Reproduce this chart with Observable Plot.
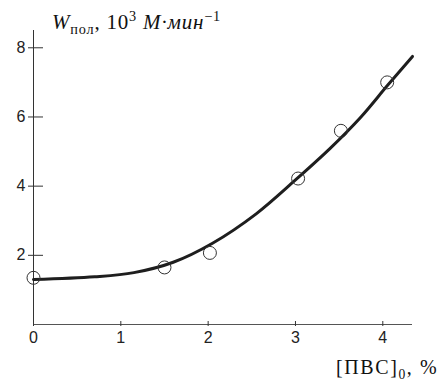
<!DOCTYPE html>
<html><head><meta charset="utf-8">
<script src="https://cdn.jsdelivr.net/npm/d3@7"></script>
<script src="https://cdn.jsdelivr.net/npm/@observablehq/plot@0.6"></script>
<style>
body{margin:0;background:#fff}
#wrap{position:relative;width:445px;height:381px;overflow:hidden}
.lbl{position:absolute;font-family:"Liberation Serif","Times New Roman",serif;font-size:20px;color:#111;white-space:nowrap;line-height:1}
.lbl sub,.lbl sup{font-size:68%;line-height:0}
</style></head><body><div id="wrap"></div>
<script>
const xTicks = [0, 1, 2, 3, 4];
const yTicks = [2, 4, 6, 8];
const curveX = [0, 0.7, 1.15, 1.6, 2.05, 2.55, 3.0, 3.4, 3.75, 4.05, 4.34];
const curveY = [1.3, 1.38, 1.5, 1.8, 2.35, 3.2, 4.18, 5.1, 6.0, 6.9, 7.75];
const pointX = [0, 1.5, 2.02, 3.03, 3.52, 4.05];
const pointY = [1.35, 1.65, 2.07, 4.22, 5.6, 7.0];
const yLabelParts = ["W", "пол", ", 10", "3", " М·мин", "−1"];
const xLabelParts = ["[ПВС]", "0", ", %"];

const curve = curveX.map((x, i) => ({x, y: curveY[i]}));
const points = pointX.map((x, i) => ({x, y: pointY[i]}));

const chart = Plot.plot({
  width: 445, height: 381,
  marginLeft: 33, marginRight: 33, marginTop: 30, marginBottom: 57,
  x: {domain: [0, 4.34]},
  y: {domain: [0, 8.5]},
  style: {fontFamily: "'Liberation Sans', Arial, sans-serif", fontSize: "16px", color: "#222", background: "#fff"},
  marks: [
    Plot.ruleY([0], {stroke: "#555", strokeWidth: 1.2}),
    Plot.ruleX([0], {stroke: "#333", strokeWidth: 1}),
    Plot.axisX(xTicks, {tickSize: 5, dy: -3, tickFormat: () => "", label: null, stroke: "#333"}),
    Plot.axisX(xTicks, {tickSize: 0, tickPadding: 7, label: null, fill: "#222"}),
    Plot.axisY(yTicks, {tickSize: 15, dx: 10, tickFormat: () => "", label: null, stroke: "#333"}),
    Plot.axisY(yTicks, {tickSize: 0, tickPadding: 8, label: null, fill: "#222"}),
    Plot.line(curve, {x: "x", y: "y", curve: "catmull-rom", stroke: "#1e1e1e", strokeWidth: 3}),
    Plot.dot(points, {x: "x", y: "y", r: 6.5, stroke: "#333", strokeWidth: 1, fill: "none"})
  ]
});
const wrap = document.getElementById("wrap");
wrap.appendChild(chart);

const yl = document.createElement("div");
yl.className = "lbl";
yl.style.left = "52px"; yl.style.top = "12px"; yl.style.fontSize = "21px"; yl.style.letterSpacing = "0.8px";
yl.innerHTML = `<i>${yLabelParts[0]}</i><sub>${yLabelParts[1]}</sub>${yLabelParts[2]}<sup>${yLabelParts[3]}</sup><i>${yLabelParts[4]}</i><sup>${yLabelParts[5]}</sup>`;
wrap.appendChild(yl);

const xl = document.createElement("div");
xl.className = "lbl";
xl.style.left = "336px"; xl.style.top = "357px"; xl.style.letterSpacing = "1.6px";
xl.innerHTML = `${xLabelParts[0]}<sub>${xLabelParts[1]}</sub>${xLabelParts[2]}`;
wrap.appendChild(xl);
</script></body></html>
